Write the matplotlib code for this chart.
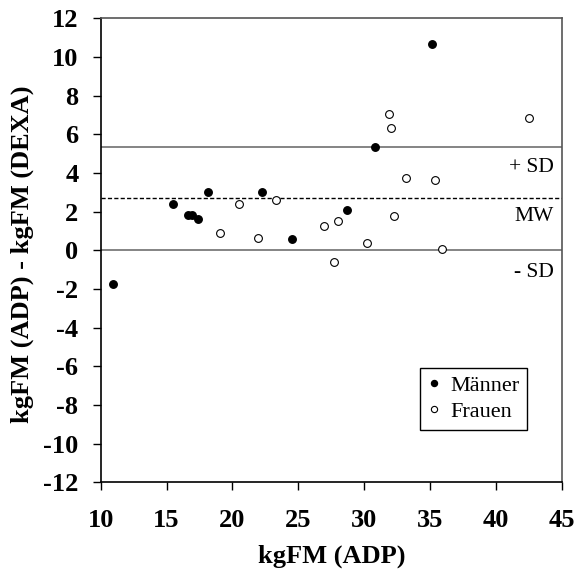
import numpy as np
import matplotlib
matplotlib.use('Agg')
import matplotlib.pyplot as plt

plt.rcParams['font.family'] = ['Liberation Serif', 'DejaVu Serif']

# Männer (gefüllt)
maenner_x = [10.92, 15.51, 16.65, 16.90, 17.41, 18.11, 22.22, 24.54, 28.65, 30.83, 35.16]
maenner_y = [-1.73, 2.39, 1.84, 1.84, 1.63, 3.04, 3.04, 0.58, 2.06, 5.33, 10.69]

# Frauen (offen)
frauen_x = [19.09, 20.51, 21.97, 23.28, 26.94, 27.70, 27.98, 30.21, 31.86, 32.06, 32.25, 33.20, 35.38, 35.92, 42.49]
frauen_y = [0.91, 2.39, 0.64, 2.61, 1.24, -0.60, 1.51, 0.38, 7.04, 6.33, 1.77, 3.74, 3.64, 0.07, 6.84]

mw = 2.70
plus_sd = 5.35
minus_sd = 0.04

x_ticks = [10, 15, 20, 25, 30, 35, 40, 45]
y_ticks = [-12, -10, -8, -6, -4, -2, 0, 2, 4, 6, 8, 10, 12]

fig = plt.figure(figsize=(5.75, 5.7), dpi=100)
ax = fig.add_axes([0.1751, 0.1539, 0.8023, 0.8140])

ax.axhline(plus_sd, color='#707070', lw=1.2, zorder=1)
ax.axhline(minus_sd, color='#707070', lw=1.2, zorder=1)
ax.axhline(mw, color='black', lw=1.0, linestyle=(0, (3, 1.6)), zorder=1)

ax.plot(maenner_x, maenner_y, 'o', color='black', markersize=5.4, label='Männer', zorder=3)
ax.plot(frauen_x, frauen_y, 'o', markerfacecolor='white', markeredgecolor='black',
        markeredgewidth=0.8, markersize=5.6, label='Frauen', zorder=3)

ax.text(44.4, 4.3, '+ SD', ha='right', va='center', fontsize=15.5)
ax.text(44.4, 1.77, 'MW', ha='right', va='center', fontsize=15.5)
ax.text(44.4, -1.15, '- SD', ha='right', va='center', fontsize=15.5)

ax.set_xlim(10, 45)
ax.set_ylim(-12, 12)
ax.set_xticks(x_ticks)
ax.set_yticks(y_ticks)
ax.set_xticklabels([str(t) for t in x_ticks], fontsize=19, fontweight='bold')
ax.set_yticklabels([str(t) for t in y_ticks], fontsize=19, fontweight='bold')
ax.tick_params(axis='x', direction='out', length=6, width=1, pad=13)
ax.tick_params(axis='y', direction='out', length=6, width=1, pad=10)

for s in ['top', 'right']:
    ax.spines[s].set_color('#555555')
    ax.spines[s].set_linewidth(1.2)
for s in ['left', 'bottom']:
    ax.spines[s].set_color('black')
    ax.spines[s].set_linewidth(1.2)

ax.set_xlabel('kgFM (ADP)', fontsize=19, fontweight='bold')
ax.xaxis.set_label_coords(0.5, -0.160)
ax.xaxis.label.set_verticalalignment('center')
ax.set_ylabel('kgFM (ADP) - kgFM (DEXA)', fontsize=19, fontweight='bold')
ax.yaxis.set_label_coords(-0.171, 0.492)
ax.yaxis.label.set_verticalalignment('center')

leg = ax.legend(loc='lower left', bbox_to_anchor=(0.693, 0.113), borderaxespad=0,
                fontsize=16, frameon=True, fancybox=False, framealpha=1,
                edgecolor='black', handlelength=0.5, handletextpad=0.5,
                borderpad=0.35, labelspacing=0.25, markerscale=0.8)
leg.get_frame().set_linewidth(1.0)

plt.savefig('out.png', dpi=100)
